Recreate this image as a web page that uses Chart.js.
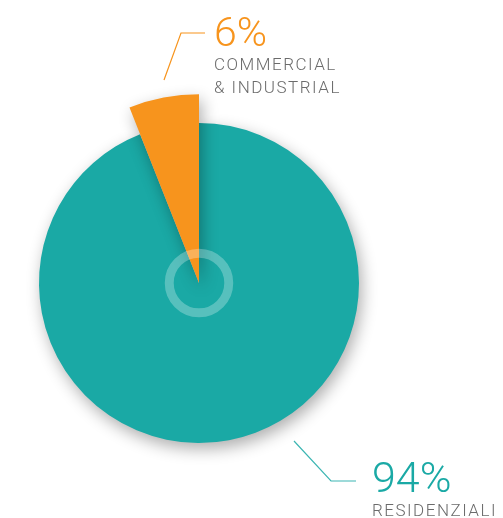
<!DOCTYPE html>
<html lang="it">
<head>
    <meta charset="UTF-8">
    <title>Residenziali vs Commercial</title>
    <script src="https://cdn.jsdelivr.net/npm/chart.js"></script>
    <style>
        html, body { margin: 0; padding: 0; background: #fff; }
        #wrap { position: relative; width: 503px; height: 518px; }
    </style>
</head>
<body>
    <div id="wrap"><canvas id="pie"></canvas></div>
    <script>
        // data
        const categories = ['RESIDENZIALI', 'COMMERCIAL & INDUSTRIAL'];
        const shares = [94, 6];
        const valueLabels = ['94%', '6%'];
        const subLabels = [['RESIDENZIALI'], ['COMMERCIAL', '& INDUSTRIAL']];

        const TEAL = '#1aa9a5';
        const ORANGE = '#f7941d';
        const GREY = '#6b6b6b';

        // the small slice sticks out past the rim
        const bigSlice = {
            id: 'bigSlice',
            afterDatasetsUpdate(chart) {
                const arc = chart.getDatasetMeta(0).data[1];
                if (arc) arc.outerRadius = arc.outerRadius * 1.18;
            }
        };

        // soft drop shadow under the pie
        const shadow = {
            id: 'shadow',
            beforeDatasetsDraw(chart) {
                const ctx = chart.ctx;
                ctx.save();
                ctx.shadowColor = 'rgba(0,0,0,0.32)';
                ctx.shadowBlur = 16;
                ctx.shadowOffsetX = 3;
                ctx.shadowOffsetY = 6;
            },
            afterDatasetsDraw(chart) {
                chart.ctx.restore();
            }
        };

        // ring in the middle + labels with leader lines
        const decor = {
            id: 'decor',
            afterDraw(chart) {
                const ctx = chart.ctx;
                const arc = chart.getDatasetMeta(0).data[0];
                const cx = arc.x, cy = arc.y, r = arc.outerRadius;

                ctx.save();
                ctx.strokeStyle = 'rgba(255,255,255,0.27)';
                ctx.lineWidth = r * 0.056;
                ctx.beginPath();
                ctx.arc(cx, cy, r * 0.186, 0, Math.PI * 2);
                ctx.stroke();

                function leader(pts, color) {
                    ctx.strokeStyle = color;
                    ctx.lineWidth = 1.2;
                    ctx.beginPath();
                    ctx.moveTo(cx + pts[0][0], cy + pts[0][1]);
                    for (let i = 1; i < pts.length; i++) ctx.lineTo(cx + pts[i][0], cy + pts[i][1]);
                    ctx.stroke();
                }

                function label(i, x, yBig, ySmall, size, color) {
                    ctx.textAlign = 'left';
                    ctx.textBaseline = 'alphabetic';
                    ctx.fillStyle = color;
                    ctx.letterSpacing = '0px';
                    ctx.font = '300 ' + size + 'px Roboto';
                    ctx.fillText(valueLabels[i], cx + x, cy + yBig);
                    ctx.fillStyle = GREY;
                    ctx.font = '300 17px Roboto';
                    ctx.letterSpacing = '1.5px';
                    subLabels[i].forEach((t, k) => ctx.fillText(t, cx + x, cy + ySmall + k * 23));
                }

                // commercial & industrial
                leader([[-35, -203], [-18, -250], [6, -250]], ORANGE);
                label(1, 15, -237, -213, 41, ORANGE);

                // residenziali
                leader([[95, 158], [132, 198], [157, 198]], '#3db6b3');
                label(0, 173, 209, 233, 43, TEAL);
                ctx.restore();
            }
        };

        new Chart(document.getElementById('pie'), {
            type: 'pie',
            data: {
                labels: categories,
                datasets: [{
                    data: shares,
                    backgroundColor: [TEAL, ORANGE],
                    borderWidth: 0
                }]
            },
            options: {
                responsive: true,
                maintainAspectRatio: false,
                animation: false,
                layout: { padding: { left: 39, top: 123, right: 144, bottom: 75 } },
                plugins: {
                    legend: { display: false },
                    tooltip: { enabled: false }
                }
            },
            plugins: [bigSlice, shadow, decor]
        });
    </script>
</body>
</html>
